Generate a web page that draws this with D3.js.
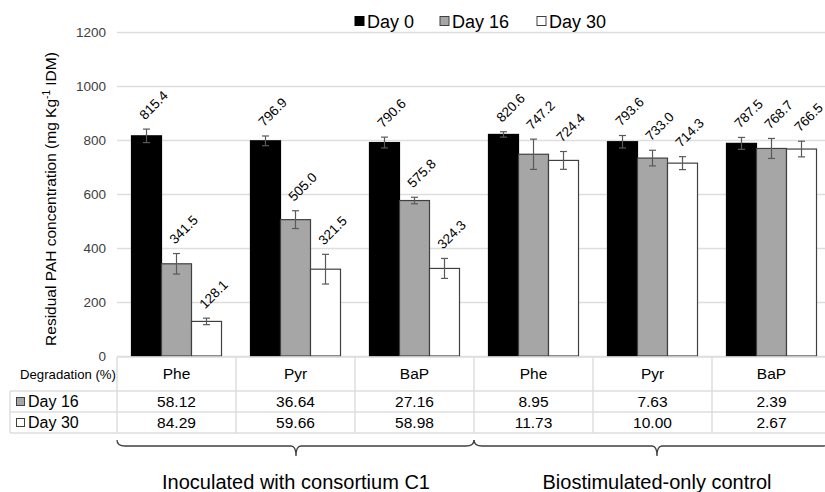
<!DOCTYPE html>
<html>
<head>
<meta charset="utf-8">
<script src="https://cdn.jsdelivr.net/npm/d3@7"></script>
<style>
  body { margin: 0; background: #fff; }
  svg { font-family: "Liberation Sans", Arial, sans-serif; display: block; }
</style>
</head>
<body>
<div id="chart"></div>
<script>

var categories = ["Phe", "Pyr", "BaP", "Phe", "Pyr", "BaP"];
var series = ["Day 0", "Day 16", "Day 30"];
var day0 = [815.4, 796.9, 790.6, 820.6, 793.6, 787.5];
var day16 = [341.5, 505.0, 575.8, 747.2, 733.0, 768.7];
var day30 = [128.1, 321.5, 324.3, 724.4, 714.3, 766.5];
var err0 = [25, 18, 20, 10, 23, 22];
var err16 = [38, 33, 12, 56, 29, 37];
var err30 = [12, 55, 37, 33, 24, 29];
var deg16 = ["58.12", "36.64", "27.16", "8.95", "7.63", "2.39"];
var deg30 = ["84.29", "59.66", "58.98", "11.73", "10.00", "2.67"];
var groups = ["Inoculated with consortium C1", "Biostimulated-only control"];
var yTicks = [0, 200, 400, 600, 800, 1000, 1200];

var width = 825, height = 492;
var fills = ["#000000", "#a6a6a6", "#ffffff"];
var strokes = ["#000000", "#404040", "#404040"];
var gridColor = "#dedede";

var svg = d3.select("#chart")
  .append("svg")
  .attr("width", width)
  .attr("height", height);

var x0 = d3.scaleBand()
  .domain(d3.range(categories.length))
  .range([117, 831])
  .padding(0);

var x1 = d3.scaleBand()
  .domain(series)
  .range([0, x0.bandwidth()])
  .paddingInner(0)
  .paddingOuter(0.483);

var y = d3.scaleLinear()
  .domain([0, 1200])
  .range([356, 32]);

// gridlines
svg.append("g")
  .selectAll("line")
  .data(yTicks).enter()
  .append("line")
  .attr("x1", 117).attr("x2", width)
  .attr("y1", function(d){ return Math.round(y(d)) + 0.5 })
  .attr("y2", function(d){ return Math.round(y(d)) + 0.5 })
  .attr("stroke", gridColor)
  .attr("stroke-width", 1.5);

// y tick labels
svg.append("g")
  .selectAll("text")
  .data(yTicks).enter()
  .append("text")
  .attr("x", 106)
  .attr("y", function(d){ return y(d) })
  .attr("dy", "0.35em")
  .attr("text-anchor", "end")
  .attr("font-size", 13.5)
  .attr("fill", "#404040")
  .text(function(d){ return d });

// y axis title
var ytitle = svg.append("text")
  .attr("transform", "translate(56,199) rotate(-90)")
  .attr("text-anchor", "middle")
  .attr("font-size", 15.5)
  .attr("fill", "#000");
ytitle.append("tspan").text("Residual PAH concentration (mg Kg");
ytitle.append("tspan").attr("font-size", 10).attr("dy", -6).text("-1");
ytitle.append("tspan").attr("dy", 6).text(" IDM)");

// bars
var rows = [];
categories.forEach(function(c, i){
  rows.push({ i: i, s: 0, v: day0[i], e: err0[i] });
  rows.push({ i: i, s: 1, v: day16[i], e: err16[i] });
  rows.push({ i: i, s: 2, v: day30[i], e: err30[i] });
});

function bx(d) { return x0(d.i) + x1(series[d.s]) }
function cx(d) { return bx(d) + x1.bandwidth() / 2 }

svg.append("g")
  .selectAll("rect")
  .data(rows).enter()
  .append("rect")
  .attr("x", function(d){ return bx(d) })
  .attr("y", function(d){ return y(d.v) })
  .attr("width", x1.bandwidth())
  .attr("height", function(d){ return y(0) - y(d.v) })
  .attr("fill", function(d){ return fills[d.s] })
  .attr("stroke", function(d){ return strokes[d.s] })
  .attr("stroke-width", 1.2);

// error bars
var eb = svg.append("g")
  .attr("stroke", "#595959")
  .attr("stroke-width", 1.2);

eb.selectAll(".ev")
  .data(rows).enter()
  .append("line")
  .attr("x1", cx).attr("x2", cx)
  .attr("y1", function(d){ return y(d.v + d.e) })
  .attr("y2", function(d){ return y(d.v - d.e) });

eb.selectAll(".et")
  .data(rows).enter()
  .append("line")
  .attr("x1", function(d){ return cx(d) - 3.5 })
  .attr("x2", function(d){ return cx(d) + 3.5 })
  .attr("y1", function(d){ return y(d.v + d.e) })
  .attr("y2", function(d){ return y(d.v + d.e) });

eb.selectAll(".eb")
  .data(rows).enter()
  .append("line")
  .attr("x1", function(d){ return cx(d) - 3.5 })
  .attr("x2", function(d){ return cx(d) + 3.5 })
  .attr("y1", function(d){ return y(d.v - d.e) })
  .attr("y2", function(d){ return y(d.v - d.e) });

// value labels (rotated)
svg.append("g")
  .selectAll("text")
  .data(rows).enter()
  .append("text")
  .attr("transform", function(d){
    return "translate(" + (cx(d) + 7) + "," + (y(d.v + d.e) - 24) + ") rotate(-45)";
  })
  .attr("text-anchor", "middle")
  .attr("dy", "0.35em")
  .attr("font-size", 13.5)
  .attr("fill", "#000")
  .text(function(d){ return d.v.toFixed(1) });

// legend
var legX = [355, 440, 537];
var leg = svg.append("g");
series.forEach(function(s, k){
  leg.append("rect")
    .attr("x", legX[k]).attr("y", 16.5)
    .attr("width", 9).attr("height", 9)
    .attr("fill", fills[k])
    .attr("stroke", k == 0 ? "#000" : "#404040")
    .attr("stroke-width", 1);
  leg.append("text")
    .attr("x", legX[k] + 12).attr("y", 28)
    .attr("font-size", 18)
    .attr("fill", "#000")
    .text(s);
});

// data table
var tTop = 357, tHead = 391, tR1 = 412, tR2 = 433;
var tbl = svg.append("g").attr("stroke", gridColor).attr("stroke-width", 1.5);

tbl.append("line").attr("x1", 117).attr("x2", width).attr("y1", tTop).attr("y2", tTop);
[tHead, tR1, tR2].forEach(function(yy){
  tbl.append("line").attr("x1", 10).attr("x2", width).attr("y1", yy).attr("y2", yy);
});
tbl.append("line").attr("x1", 10).attr("x2", 10).attr("y1", tHead).attr("y2", tR2);
d3.range(categories.length).forEach(function(i){
  tbl.append("line")
    .attr("x1", x0(i)).attr("x2", x0(i))
    .attr("y1", tTop).attr("y2", tR2);
});

svg.append("text")
  .attr("x", 116).attr("y", (tTop + tHead) / 2)
  .attr("dy", "0.35em")
  .attr("text-anchor", "end")
  .attr("font-size", 13.2)
  .attr("fill", "#000")
  .text("Degradation (%)");

var cellText = svg.append("g")
  .attr("text-anchor", "middle")
  .attr("font-size", 15.5)
  .attr("fill", "#000");

categories.forEach(function(c, i){
  var mx = x0(i) + x0.bandwidth() / 2;
  cellText.append("text").attr("x", mx).attr("y", (tTop + tHead) / 2).attr("dy", "0.35em").text(c);
  cellText.append("text").attr("x", mx).attr("y", (tHead + tR1) / 2).attr("dy", "0.35em").text(deg16[i]);
  cellText.append("text").attr("x", mx).attr("y", (tR1 + tR2) / 2).attr("dy", "0.35em").text(deg30[i]);
});

[[tHead, tR1, 1], [tR1, tR2, 2]].forEach(function(r){
  var my = (r[0] + r[1]) / 2;
  svg.append("rect")
    .attr("x", 16.5).attr("y", my - 4)
    .attr("width", 8).attr("height", 8)
    .attr("fill", fills[r[2]])
    .attr("stroke", "#404040")
    .attr("stroke-width", 1);
  svg.append("text")
    .attr("x", 28).attr("y", my)
    .attr("dy", "0.35em")
    .attr("font-size", 16)
    .attr("fill", "#000")
    .text(series[r[2]]);
});

// braces under the two groups
function brace(xa, xb, tip) {
  var top = 440, mid = 446, low = 456;
  return "M" + xa + "," + top +
    " Q" + xa + "," + mid + " " + (xa + 8) + "," + mid +
    " L" + (tip - 5) + "," + mid +
    " Q" + tip + "," + mid + " " + tip + "," + low +
    " Q" + tip + "," + mid + " " + (tip + 5) + "," + mid +
    " L" + (xb - 8) + "," + mid +
    " Q" + xb + "," + mid + " " + xb + "," + top;
}

var gStart = [x0(0), x0(3)];
var gEnd = [x0(2) + x0.bandwidth(), x0(5) + x0.bandwidth()];
var gMid = [296, 657];

groups.forEach(function(g, k){
  svg.append("path")
    .attr("d", brace(gStart[k], gEnd[k], gMid[k]))
    .attr("fill", "none")
    .attr("stroke", "#404040")
    .attr("stroke-width", 1.3);
  svg.append("text")
    .attr("x", gMid[k]).attr("y", 489)
    .attr("text-anchor", "middle")
    .attr("font-size", 20)
    .attr("fill", "#000")
    .text(g);
});

</script>
</body>
</html>
